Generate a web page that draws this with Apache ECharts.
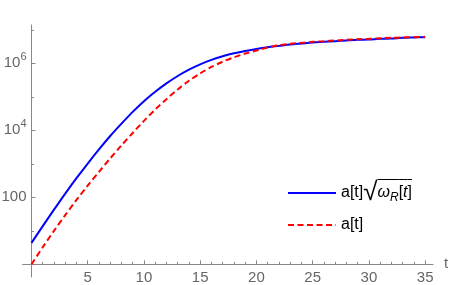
<!DOCTYPE html>
<html><head><meta charset="utf-8">
<script src="https://cdn.jsdelivr.net/npm/echarts@6/dist/echarts.min.js"></script>
<style>html,body{margin:0;padding:0;background:#fff}#c{width:450px;height:285px}</style>
</head><body><div id="c"></div>
<script>
const tValues = [0,1,2,3,4,5,6,7,8,9,10,11,12,13,14,15,16,17,18,19,20,21,22,23,24,25,26,27,28,29,30,31,32,33,34,35];
const aSqrtOmega = [4.37,13.8,42.7,129,372,1020,2690,6760,15800,35500,74100,141000,251000,417000,646000,933000,1260000,1620000,2000000,2340000,2690000,3020000,3310000,3630000,3890000,4170000,4370000,4570000,4790000,5010000,5130000,5370000,5500000,5750000,5890000,6030000];
const aValues = [1.0,3.24,10.0,29.5,83.2,224,575,1450,3550,8320,19100,41700,85100,166000,302000,501000,776000,1120000,1510000,1950000,2400000,2950000,3470000,3800000,4070000,4370000,4570000,4790000,5010000,5250000,5370000,5620000,5750000,5890000,6030000,6170000];
const xTickLabels = [5,10,15,20,25,30,35];
const xMinorTicks = [1,2,3,4,6,7,8,9,11,12,13,14,16,17,18,19,21,22,23,24,26,27,28,29,31,32,33,34];
const yTickLabels = [100,10000,1000000];
const yMinorTicks = [10,1000,100000,10000000];
const seriesNames = ['a[t]√ωR[t]','a[t]'];

const FONT = 'Liberation Sans, Arial, sans-serif';
const AX = '#888';
const LB = '#666';
const over = {type:'linear',x:0,y:0,x2:0,y2:1,colorStops:[{offset:0,color:'#000'},{offset:0.04,color:'#000'},{offset:0.045,color:'rgba(0,0,0,0)'},{offset:1,color:'rgba(0,0,0,0)'}]};

const chart = echarts.init(document.getElementById('c'), null, {renderer:'canvas'});
const xCommon = {type:'value', min:-0.8, max:35.7, position:'bottom', offset:-12.7, splitLine:{show:false}};
const yCommon = {type:'log', logBase:10, min:0.418, max:1.39e7, position:'left', splitLine:{show:false}, axisLine:{onZero:true}};
chart.setOption({
  animation:false,
  grid:{left:22.5,right:17,top:25,bottom:8,containLabel:false,outerBoundsMode:'none'},
  xAxis:[
    Object.assign({}, xCommon, {
      name:'t', nameLocation:'end', nameGap:11,
      nameTextStyle:{fontSize:15,color:LB,fontFamily:FONT,verticalAlign:'middle'},
      axisLine:{show:true,onZero:false,lineStyle:{color:AX,width:1}},
      axisTick:{show:true,inside:true,length:4,lineStyle:{color:AX},customValues:xTickLabels},
      axisLabel:{show:true,customValues:xTickLabels,margin:6,fontSize:15,color:LB,fontFamily:FONT}
    }),
    Object.assign({}, xCommon, {
      axisLine:{show:false,onZero:false},
      axisTick:{show:true,inside:true,length:2.5,lineStyle:{color:AX},customValues:xMinorTicks},
      axisLabel:{show:false}
    })
  ],
  yAxis:[
    Object.assign({}, yCommon, {
      axisLine:{show:true,onZero:true,onZeroAxisIndex:0,lineStyle:{color:AX,width:1}},
      axisTick:{show:true,inside:true,length:4,lineStyle:{color:AX},customValues:yTickLabels},
      axisLabel:{show:true,customValues:yTickLabels,margin:-4,
        formatter:function(v){const e=Math.round(Math.log10(v));return e===2?'{n|100}':'{n|10}{s|'+e+'}';},
        rich:{n:{fontSize:15,color:LB,fontFamily:FONT},s:{fontSize:11,lineHeight:10,padding:[0,0,12,0],color:LB,fontFamily:FONT}}}
    }),
    Object.assign({}, yCommon, {
      axisLine:{show:false,onZero:true,onZeroAxisIndex:0},
      axisTick:{show:true,inside:true,length:2.5,lineStyle:{color:AX},customValues:yMinorTicks},
      axisLabel:{show:false}
    })
  ],
  legend:{
    orient:'vertical', left:282, top:174, itemWidth:48, itemHeight:1, itemGap:4,
    itemStyle:{opacity:0},
    data:seriesNames,
    formatter:function(name){return name===seriesNames[1]?'a[t]':'a[t]{r|√}{oi|ω}{os|R}{o|[}{oi|t}{o|]}';},
    textStyle:{fontSize:16,color:'#000',fontFamily:FONT,lineHeight:28,
      rich:{
        r:{fontSize:26,height:28,color:'#000',fontFamily:FONT},
        o:{fontSize:16,height:28,color:'#000',fontFamily:FONT,backgroundColor:over},
        oi:{fontSize:16,height:28,fontStyle:'italic',color:'#000',fontFamily:FONT,backgroundColor:over},
        os:{fontSize:12,height:18,padding:[10,0,0,0],fontStyle:'italic',color:'#000',fontFamily:FONT,backgroundColor:over}
      }}
  },
  series:[
    {name:seriesNames[0], type:'line', xAxisIndex:0, yAxisIndex:0, showSymbol:false, symbol:'none', smooth:0.3,
     lineStyle:{color:'#0000ff',width:2}, itemStyle:{color:'#0000ff'},
     data:tValues.map((x,i)=>[x,aSqrtOmega[i]])},
    {name:seriesNames[1], type:'line', xAxisIndex:0, yAxisIndex:0, showSymbol:false, symbol:'none', smooth:0.3,
     lineStyle:{color:'#ff0000',width:2,type:[6,3.5]}, itemStyle:{color:'#ff0000'},
     data:tValues.map((x,i)=>[x,aValues[i]])}
  ]
});
</script></body></html>
